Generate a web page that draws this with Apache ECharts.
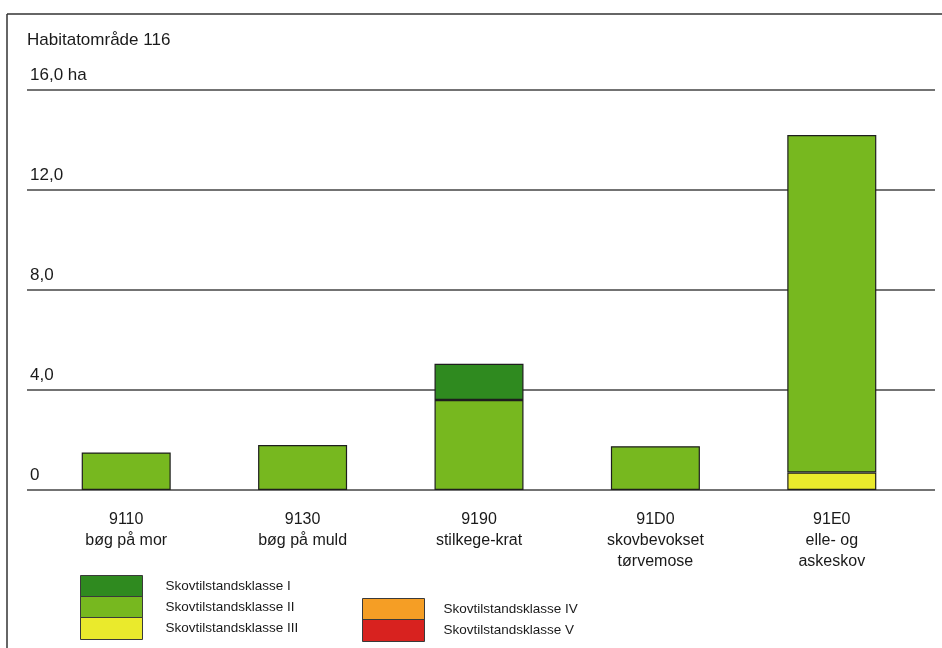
<!DOCTYPE html>
<html lang="da">
<head>
    <meta charset="UTF-8">
    <title>Habitatområde 116</title>
    <script src="https://cdn.jsdelivr.net/npm/echarts@6/dist/echarts.min.js"></script>
    <style>
        html, body { margin: 0; padding: 0; background: #fff; }
        #main { width: 942px; height: 648px; }
    </style>
</head>
<body>
<div id="main"></div>
<script>
    // kategorier (habitatnaturtyper)
    var categories = [
        '9110\nbøg på mor',
        '9130\nbøg på muld',
        '9190\nstilkege-krat',
        '91D0\nskovbevokset\ntørvemose',
        '91E0\nelle- og\naskeskov'
    ];
    var yTicks = ['0', '4,0', '8,0', '12,0', '16,0 ha'];

    // areal i ha pr. skovtilstandsklasse (null = ingen)
    var klasseI   = [null, null, 1.45, null, null];
    var klasseII  = [1.5, 1.8, 3.6, 1.75, 13.5];
    var klasseIII = [null, null, null, null, 0.7];
    var klasseIV  = [null, null, null, null, null];
    var klasseV   = [null, null, null, null, null];

    var names = ['Skovtilstandsklasse I', 'Skovtilstandsklasse II', 'Skovtilstandsklasse III',
        'Skovtilstandsklasse IV', 'Skovtilstandsklasse V'];
    var colors = ['#2f8a1f', '#77b81f', '#eaea2c', '#f59e25', '#d8221f'];

    var font = '"Liberation Sans", Arial, sans-serif';

    function barSerie(i, data) {
        return {
            name: names[i],
            type: 'bar',
            stack: 'areal',
            xAxisIndex: 1,
            yAxisIndex: 1,
            barWidth: 89,
            data: data,
            itemStyle: { color: colors[i], borderColor: '#1e1e1e', borderWidth: 1.2 }
        };
    }

    var legendBase = {
        orient: 'vertical',
        padding: 0,
        itemWidth: 62,
        itemHeight: 22,
        itemGap: -2,
        icon: 'rect',
        itemStyle: { borderColor: '#3a3a3a', borderWidth: 1 }
    };

    var myChart = echarts.init(document.getElementById('main'));
    var option = {
        backgroundColor: '#fff',
        animation: false,
        title: {
            text: 'Habitatområde 116',
            left: 22,
            top: 27,
            textStyle: { fontFamily: font, fontSize: 17, fontWeight: 'normal', color: '#1a1a1a' }
        },
        graphic: [
            { type: 'line', shape: { x1: 7, y1: 14, x2: 942, y2: 14 }, style: { stroke: '#333', lineWidth: 1.5 } },
            { type: 'line', shape: { x1: 7, y1: 14, x2: 7, y2: 648 }, style: { stroke: '#333', lineWidth: 1.5 } }
        ],
        grid: [
            { left: 27, right: 7, top: 90, bottom: 158 },
            { left: 38, right: 22, top: 90, bottom: 158 }
        ],
        xAxis: [
            { type: 'value', gridIndex: 0, show: false, min: 0, max: 1 },
            {
                type: 'category',
                gridIndex: 1,
                data: categories,
                axisLine: { show: false },
                axisTick: { show: false },
                axisLabel: {
                    margin: 19,
                    fontFamily: font,
                    fontSize: 16,
                    lineHeight: 21,
                    color: '#1a1a1a',
                    interval: 0
                }
            }
        ],
        yAxis: [
            {
                type: 'value',
                gridIndex: 0,
                min: 0,
                max: 16,
                interval: 4,
                axisLine: { show: false },
                axisTick: { show: false },
                splitLine: { show: true, lineStyle: { color: '#444', width: 1.5 } },
                axisLabel: {
                    inside: true,
                    margin: 3,
                    verticalAlign: 'bottom',
                    padding: [0, 0, 6, 0],
                    fontFamily: font,
                    fontSize: 17,
                    color: '#1a1a1a',
                    formatter: function (v) { return yTicks[v / 4]; }
                }
            },
            { type: 'value', gridIndex: 1, min: 0, max: 16, interval: 4, show: false, splitLine: { show: false } }
        ],
        legend: [
            Object.assign({}, legendBase, {
                left: 80,
                top: 575,
                data: names.slice(0, 3),
                textStyle: { fontFamily: font, fontSize: 13.5, color: '#1a1a1a', padding: [0, 0, 0, 18] }
            }),
            Object.assign({}, legendBase, {
                left: 362,
                top: 598,
                data: names.slice(3),
                textStyle: { fontFamily: font, fontSize: 13.5, color: '#1a1a1a', padding: [0, 0, 0, 14] }
            })
        ],
        series: [
            barSerie(4, klasseV),
            barSerie(3, klasseIV),
            barSerie(2, klasseIII),
            barSerie(1, klasseII),
            barSerie(0, klasseI)
        ]
    };
    myChart.setOption(option);
</script>
</body>
</html>
